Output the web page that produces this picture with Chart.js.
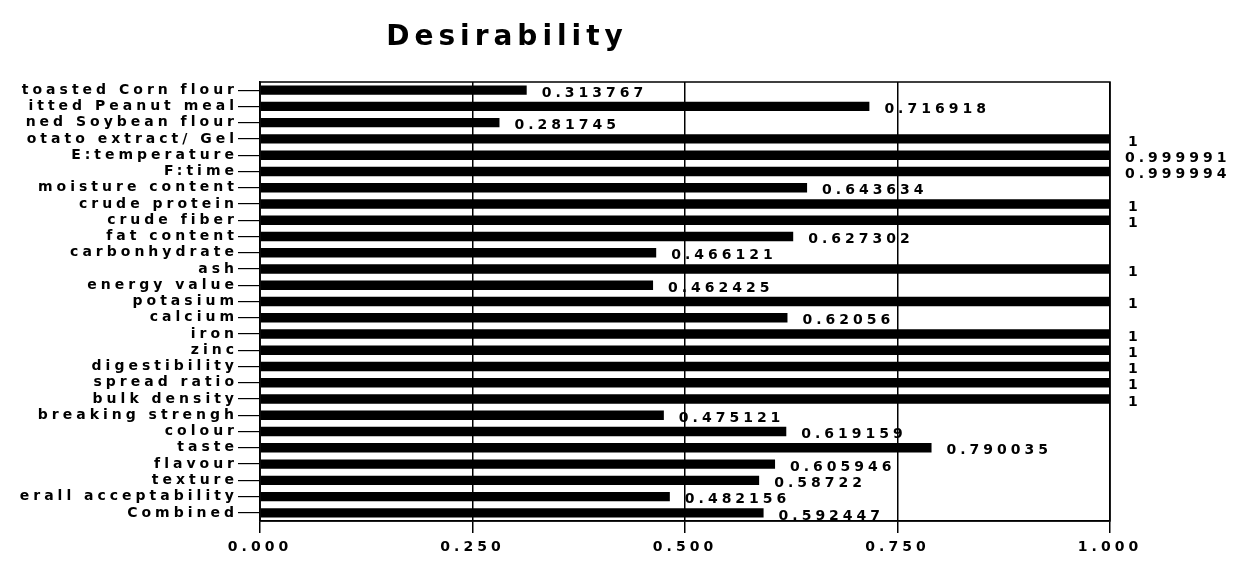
<!DOCTYPE html>
<html lang="en">
<head>
    <meta charset="UTF-8">
    <title>Desirability</title>
    <script src="https://cdn.jsdelivr.net/npm/chart.js"></script>
    <style>
        html, body { margin: 0; padding: 0; background: #fff; }
        #wrap { position: relative; width: 1237px; height: 568px; }
    </style>
</head>
<body>
    <div id="wrap"><canvas id="desChart"></canvas></div>

    <script>
        // factors, responses and the combined value, top to bottom
        const categories = [
            'toasted Corn flour', 'itted Peanut meal', 'ned Soybean flour', 'otato extract/ Gel',
            'E:temperature', 'F:time', 'moisture content', 'crude protein', 'crude fiber',
            'fat content', 'carbonhydrate', 'ash', 'energy value', 'potasium', 'calcium',
            'iron', 'zinc', 'digestibility', 'spread ratio', 'bulk density', 'breaking strengh',
            'colour', 'taste', 'flavour', 'texture', 'erall acceptability', 'Combined'
        ];
        const desirability = [
            0.313767, 0.716918, 0.281745, 1,
            0.999991, 0.999994, 0.643634, 1, 1,
            0.627302, 0.466121, 1, 0.462425, 1, 0.62056,
            1, 1, 1, 1, 1, 0.475121,
            0.619159, 0.790035, 0.605946, 0.58722, 0.482156, 0.592447
        ];
        const xTickValues = [0, 0.25, 0.5, 0.75, 1];

        const FONT = '"DejaVu Sans", sans-serif';
        const SPACING = '4px';

        // the scanned chart uses a very wide lettering
        const spacingPlugin = {
            id: 'spacing',
            beforeLayout(chart) { chart.ctx.letterSpacing = SPACING; },
            beforeDraw(chart) { chart.ctx.letterSpacing = SPACING; }
        };

        const extrasPlugin = {
            id: 'extras',
            afterDraw(chart) {
                const ctx = chart.ctx;
                const area = chart.chartArea;
                const xs = chart.scales.x;
                const meta = chart.getDatasetMeta(0);
                ctx.save();
                // frame
                ctx.strokeStyle = '#000';
                ctx.lineWidth = 1.5;
                ctx.strokeRect(area.left, area.top, area.right - area.left, area.bottom - area.top);

                // value labels
                ctx.fillStyle = '#000';
                ctx.font = 'bold 14px ' + FONT;
                ctx.letterSpacing = SPACING;
                ctx.textAlign = 'left';
                ctx.textBaseline = 'middle';
                desirability.forEach((v, i) => {
                    const bar = meta.data[i];
                    const gap = v >= 1 ? 18 : 15;
                    ctx.fillText(String(v), xs.getPixelForValue(v) + gap, bar.y + 3);
                });

                // title
                ctx.font = 'bold 28px ' + FONT;
                ctx.letterSpacing = '5px';
                ctx.textAlign = 'center';
                ctx.fillText('Desirability', 507, 38);
                ctx.restore();
            }
        };

        const ctx = document.getElementById('desChart').getContext('2d');
        new Chart(ctx, {
            type: 'bar',
            data: {
                labels: categories,
                datasets: [{
                    data: desirability,
                    backgroundColor: '#000',
                    borderWidth: 0,
                    barPercentage: 0.58,
                    categoryPercentage: 1
                }]
            },
            options: {
                indexAxis: 'y',
                responsive: true,
                maintainAspectRatio: false,
                animation: false,
                layout: { padding: { top: 82, right: 127, left: 0, bottom: 0 } },
                plugins: {
                    legend: { display: false },
                    tooltip: { enabled: false }
                },
                scales: {
                    x: {
                        type: 'linear',
                        min: 0,
                        max: 1,
                        afterBuildTicks: (scale) => {
                            scale.ticks = xTickValues.map(v => ({ value: v }));
                        },
                        afterFit: (scale) => { scale.height = 47; },
                        ticks: {
                            color: '#000',
                            padding: 6,
                            maxRotation: 0,
                            font: { family: FONT, size: 14, weight: 'bold' },
                            callback: (v) => Number(v).toFixed(3)
                        },
                        grid: {
                            color: '#000',
                            lineWidth: 1.5,
                            tickLength: 12
                        },
                        border: { display: true, color: '#000', width: 1.5 }
                    },
                    y: {
                        afterFit: (scale) => { scale.width = 260; },
                        ticks: {
                            color: '#000',
                            padding: 0,
                            autoSkip: false,
                            font: { family: FONT, size: 14, weight: 'bold' }
                        },
                        grid: {
                            offset: false,
                            drawOnChartArea: false,
                            color: '#000',
                            lineWidth: 1.2,
                            tickLength: 22
                        },
                        border: { display: true, color: '#000', width: 1.5 }
                    }
                }
            },
            plugins: [spacingPlugin, extrasPlugin]
        });
    </script>
</body>
</html>
